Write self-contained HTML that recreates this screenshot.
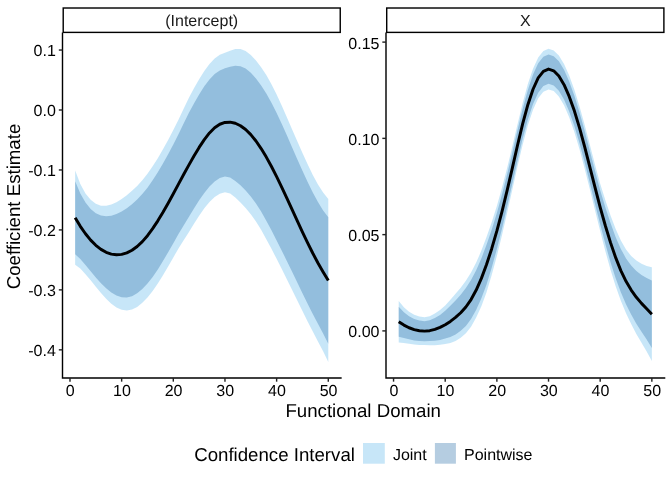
<!DOCTYPE html>
<html><head><meta charset="utf-8"><title>plot</title>
<style>html,body{margin:0;padding:0;background:#fff;overflow:hidden}body{width:672px;height:480px;font-family:"Liberation Sans",sans-serif}</style></head>
<body>
<svg width="672" height="480" viewBox="0 0 672 480" style="display:block;will-change:transform;text-rendering:geometricPrecision">
<rect width="672" height="480" fill="#fff"/>
<polygon points="75.16,170.60 80.32,183.98 85.49,193.39 90.65,199.84 95.82,203.86 100.99,205.69 106.15,205.80 111.32,204.57 116.48,202.15 121.65,199.01 126.82,195.18 131.98,190.84 137.15,185.93 142.31,180.34 147.48,173.78 152.65,166.31 157.81,158.14 162.98,149.32 168.14,139.91 173.31,130.10 178.48,119.84 183.64,108.86 188.81,98.04 193.97,88.21 199.14,79.14 204.31,70.92 209.47,63.90 214.64,58.48 219.80,54.80 224.97,52.67 230.14,50.71 235.30,48.94 240.47,48.93 245.63,50.96 250.80,54.94 255.97,60.46 261.13,67.28 266.30,75.06 271.46,84.24 276.63,94.51 281.80,105.70 286.96,117.38 292.13,129.40 297.29,141.32 302.46,153.10 307.63,164.32 312.79,174.95 317.96,184.41 323.12,192.56 328.29,198.91 328.29,361.96 323.12,351.23 317.96,341.53 312.79,331.55 307.63,321.45 302.46,311.00 297.29,300.51 292.13,289.88 286.96,279.41 281.80,269.01 276.63,258.85 271.46,248.84 266.30,239.15 261.13,229.82 255.97,221.58 250.80,214.34 245.63,208.07 240.47,202.50 235.30,197.59 230.14,193.62 224.97,192.23 219.80,193.70 214.64,197.01 209.47,202.03 204.31,208.35 199.14,215.70 193.97,223.79 188.81,232.17 183.64,240.24 178.48,248.48 173.31,257.44 168.14,266.49 162.98,275.23 157.81,283.51 152.65,291.05 147.48,297.53 142.31,302.87 137.15,306.97 131.98,309.56 126.82,310.50 121.65,309.74 116.48,307.45 111.32,303.63 106.15,298.77 100.99,293.02 95.82,286.72 90.65,280.35 85.49,274.14 80.32,268.61 75.16,264.77" fill="#56B4E9" fill-opacity="0.33"/>
<polygon points="75.16,181.19 80.32,193.50 85.49,202.46 90.65,208.89 95.82,213.17 100.99,215.50 106.15,216.25 111.32,215.71 116.48,213.98 121.65,211.46 126.82,208.14 131.98,204.18 137.15,199.54 142.31,194.11 147.48,187.69 152.65,180.33 157.81,172.24 162.98,163.48 168.14,154.14 173.31,144.41 178.48,134.30 183.64,123.62 188.81,113.11 193.97,103.45 199.14,94.49 204.31,86.37 209.47,79.43 214.64,74.05 219.80,70.41 224.97,68.36 230.14,66.78 235.30,65.65 240.47,66.20 245.63,68.62 250.80,72.86 255.97,78.57 261.13,85.55 266.30,93.50 271.46,102.74 276.63,112.98 281.80,124.05 286.96,135.60 292.13,147.44 297.29,159.21 302.46,170.85 307.63,181.98 312.79,192.55 317.96,202.07 323.12,210.39 328.29,217.23 328.29,343.63 323.12,333.39 317.96,323.87 312.79,313.95 307.63,303.78 302.46,293.25 297.29,282.61 292.13,271.84 286.96,261.20 281.80,250.65 276.63,240.38 271.46,230.34 266.30,220.70 261.13,211.55 255.97,203.47 250.80,196.42 245.63,190.41 240.47,185.24 235.30,180.89 230.14,177.55 224.97,176.54 219.80,178.09 214.64,181.44 209.47,186.51 204.31,192.90 199.14,200.35 193.97,208.55 188.81,217.09 183.64,225.47 178.48,234.02 173.31,243.13 168.14,252.26 162.98,261.08 157.81,269.42 152.65,277.03 147.48,283.62 142.31,289.10 137.15,293.36 131.98,296.21 126.82,297.54 121.65,297.29 116.48,295.61 111.32,292.50 106.15,288.32 100.99,283.20 95.82,277.40 90.65,271.30 85.49,265.06 80.32,259.10 75.16,254.19" fill="#4682B4" fill-opacity="0.4"/>
<polyline points="75.16,217.69 80.32,226.30 85.49,233.76 90.65,240.09 95.82,245.29 100.99,249.35 106.15,252.29 111.32,254.10 116.48,254.80 121.65,254.38 126.82,252.84 131.98,250.20 137.15,246.45 142.31,241.60 147.48,235.66 152.65,228.68 157.81,220.83 162.98,212.28 168.14,203.20 173.31,193.77 178.48,184.16 183.64,174.55 188.81,165.10 193.97,156.00 199.14,147.42 204.31,139.63 209.47,132.97 214.64,127.75 219.80,124.25 224.97,122.45 230.14,122.16 235.30,123.27 240.47,125.72 245.63,129.52 250.80,134.64 255.97,141.02 261.13,148.55 266.30,157.10 271.46,166.54 276.63,176.68 281.80,187.35 286.96,198.40 292.13,209.64 297.29,220.91 302.46,232.05 307.63,242.88 312.79,253.25 317.96,262.97 323.12,271.89 328.29,280.43" fill="none" stroke="#000" stroke-width="2.95" stroke-linejoin="round"/>
<polygon points="398.72,300.91 403.88,307.19 409.05,311.76 414.21,314.71 419.38,316.61 424.55,317.25 429.71,316.22 434.88,313.61 440.04,310.04 445.21,305.39 450.38,299.71 455.54,293.81 460.71,287.67 465.87,280.63 471.04,272.43 476.21,262.57 481.37,250.62 486.54,236.94 491.70,222.30 496.87,205.92 502.04,187.58 507.20,167.73 512.37,146.33 517.53,124.13 522.70,102.89 527.87,84.12 533.03,68.80 538.20,57.60 543.36,51.01 548.53,48.79 553.70,50.43 558.86,55.61 564.03,64.07 569.19,75.56 574.36,89.77 579.53,106.38 584.69,124.98 589.86,144.74 595.02,164.65 600.19,183.65 605.36,200.33 610.52,215.46 615.69,229.12 620.85,240.55 626.02,249.44 631.19,256.00 636.35,260.58 641.52,263.87 646.68,265.94 651.85,267.28 651.85,361.10 646.68,351.48 641.52,342.87 636.35,333.99 631.19,324.11 626.02,313.13 620.85,300.65 615.69,286.23 610.52,269.82 605.36,251.19 600.19,230.91 595.02,210.30 589.86,189.27 584.69,168.63 579.53,149.23 574.36,131.96 569.19,117.26 564.03,105.37 558.86,96.55 553.70,91.12 548.53,89.38 543.36,91.64 538.20,98.34 533.03,109.72 527.87,125.26 522.70,144.41 517.53,166.31 512.37,189.42 507.20,212.57 502.04,235.03 496.87,255.96 491.70,275.12 486.54,292.15 481.37,306.15 476.21,317.59 471.04,326.64 465.87,333.30 460.71,337.86 455.54,341.07 450.38,343.07 445.21,344.05 440.04,344.79 434.88,345.24 429.71,345.16 424.55,345.05 419.38,344.99 414.21,344.60 409.05,343.73 403.88,343.02 398.72,342.61" fill="#56B4E9" fill-opacity="0.33"/>
<polygon points="398.72,306.76 403.88,312.21 409.05,316.25 414.21,318.91 419.38,320.59 424.55,321.15 429.71,320.28 434.88,318.05 440.04,314.92 445.21,310.81 450.38,305.80 455.54,300.44 460.71,294.71 465.87,288.02 471.04,280.04 476.21,270.29 481.37,258.41 486.54,244.69 491.70,229.71 496.87,212.94 502.04,194.24 507.20,174.02 512.37,152.38 517.53,130.05 522.70,108.71 527.87,89.89 533.03,74.54 538.20,63.31 543.36,56.71 548.53,54.48 553.70,56.14 558.86,61.35 564.03,69.86 569.19,81.41 574.36,95.69 579.53,112.39 584.69,131.11 589.86,150.99 595.02,171.05 600.19,190.28 605.36,207.46 610.52,223.09 615.69,237.13 620.85,248.98 626.02,258.38 631.19,265.55 636.35,270.88 641.52,274.96 646.68,277.94 651.85,280.44 651.85,347.94 646.68,339.48 641.52,331.79 636.35,323.69 631.19,314.55 626.02,304.20 620.85,292.21 615.69,278.22 610.52,262.20 605.36,244.06 600.19,224.28 595.02,203.90 589.86,183.03 584.69,162.51 579.53,143.22 574.36,126.04 569.19,111.41 564.03,99.58 558.86,90.81 553.70,85.41 548.53,83.68 543.36,85.94 538.20,92.63 533.03,103.98 527.87,119.49 522.70,138.59 517.53,160.40 512.37,183.38 507.20,206.28 502.04,228.38 496.87,248.94 491.70,267.71 486.54,284.40 481.37,298.36 476.21,309.87 471.04,319.04 465.87,325.91 460.71,330.82 455.54,334.44 450.38,336.99 445.21,338.62 440.04,339.92 434.88,340.80 429.71,341.10 424.55,341.15 419.38,341.01 414.21,340.41 409.05,339.25 403.88,337.99 398.72,336.76" fill="#4682B4" fill-opacity="0.4"/>
<polyline points="398.72,321.76 403.88,325.10 409.05,327.75 414.21,329.66 419.38,330.80 424.55,331.15 429.71,330.69 434.88,329.43 440.04,327.42 445.21,324.72 450.38,321.39 455.54,317.44 460.71,312.76 465.87,306.97 471.04,299.54 476.21,290.08 481.37,278.38 486.54,264.54 491.70,248.71 496.87,230.94 502.04,211.31 507.20,190.15 512.37,167.88 517.53,145.22 522.70,123.65 527.87,104.69 533.03,89.26 538.20,77.97 543.36,71.32 548.53,69.08 553.70,70.78 558.86,76.08 564.03,84.72 569.19,96.41 574.36,110.86 579.53,127.81 584.69,146.81 589.86,167.01 595.02,187.48 600.19,207.28 605.36,225.76 610.52,242.64 615.69,257.67 620.85,270.60 626.02,281.29 631.19,290.05 636.35,297.29 641.52,303.37 646.68,308.71 651.85,314.19" fill="none" stroke="#000" stroke-width="2.95" stroke-linejoin="round"/>
<rect x="63.21" y="8.01" width="277.03" height="24.38" fill="#fff" stroke="#000" stroke-width="1.42"/>
<text x="201.72" y="26.3" font-family="Liberation Sans, sans-serif" font-size="16" fill="#1a1a1a" text-anchor="middle">(Intercept)</text>
<path d="M62.5,33.1 V378.0 H340.95" fill="none" stroke="#000" stroke-width="1.42" stroke-linecap="square" stroke-linejoin="miter"/>
<path d="M69.99,378.0 v3.67" stroke="#222" stroke-width="1.42"/>
<text x="70.29" y="396.4" font-family="Liberation Sans, sans-serif" font-size="16" fill="#000" text-anchor="middle">0</text>
<path d="M121.65,378.0 v3.67" stroke="#222" stroke-width="1.42"/>
<text x="121.95" y="396.4" font-family="Liberation Sans, sans-serif" font-size="16" fill="#000" text-anchor="middle">10</text>
<path d="M173.31,378.0 v3.67" stroke="#222" stroke-width="1.42"/>
<text x="173.61" y="396.4" font-family="Liberation Sans, sans-serif" font-size="16" fill="#000" text-anchor="middle">20</text>
<path d="M224.97,378.0 v3.67" stroke="#222" stroke-width="1.42"/>
<text x="225.27" y="396.4" font-family="Liberation Sans, sans-serif" font-size="16" fill="#000" text-anchor="middle">30</text>
<path d="M276.63,378.0 v3.67" stroke="#222" stroke-width="1.42"/>
<text x="276.93" y="396.4" font-family="Liberation Sans, sans-serif" font-size="16" fill="#000" text-anchor="middle">40</text>
<path d="M328.29,378.0 v3.67" stroke="#222" stroke-width="1.42"/>
<text x="328.59" y="396.4" font-family="Liberation Sans, sans-serif" font-size="16" fill="#000" text-anchor="middle">50</text>
<rect x="386.71" y="8.01" width="277.18" height="24.38" fill="#fff" stroke="#000" stroke-width="1.42"/>
<text x="525.30" y="26.3" font-family="Liberation Sans, sans-serif" font-size="16" fill="#1a1a1a" text-anchor="middle">X</text>
<path d="M386.0,33.1 V378.0 H664.6" fill="none" stroke="#000" stroke-width="1.42" stroke-linecap="square" stroke-linejoin="miter"/>
<path d="M393.55,378.0 v3.67" stroke="#222" stroke-width="1.42"/>
<text x="393.85" y="396.4" font-family="Liberation Sans, sans-serif" font-size="16" fill="#000" text-anchor="middle">0</text>
<path d="M445.21,378.0 v3.67" stroke="#222" stroke-width="1.42"/>
<text x="445.51" y="396.4" font-family="Liberation Sans, sans-serif" font-size="16" fill="#000" text-anchor="middle">10</text>
<path d="M496.87,378.0 v3.67" stroke="#222" stroke-width="1.42"/>
<text x="497.17" y="396.4" font-family="Liberation Sans, sans-serif" font-size="16" fill="#000" text-anchor="middle">20</text>
<path d="M548.53,378.0 v3.67" stroke="#222" stroke-width="1.42"/>
<text x="548.83" y="396.4" font-family="Liberation Sans, sans-serif" font-size="16" fill="#000" text-anchor="middle">30</text>
<path d="M600.19,378.0 v3.67" stroke="#222" stroke-width="1.42"/>
<text x="600.49" y="396.4" font-family="Liberation Sans, sans-serif" font-size="16" fill="#000" text-anchor="middle">40</text>
<path d="M651.85,378.0 v3.67" stroke="#222" stroke-width="1.42"/>
<text x="652.15" y="396.4" font-family="Liberation Sans, sans-serif" font-size="16" fill="#000" text-anchor="middle">50</text>
<path d="M62.5,50.04 h-3.67" stroke="#222" stroke-width="1.42"/>
<text x="55.8" y="55.99" font-family="Liberation Sans, sans-serif" font-size="16" fill="#000" text-anchor="end">0.1</text>
<path d="M62.5,110.00 h-3.67" stroke="#222" stroke-width="1.42"/>
<text x="55.8" y="115.95" font-family="Liberation Sans, sans-serif" font-size="16" fill="#000" text-anchor="end">0.0</text>
<path d="M62.5,169.96 h-3.67" stroke="#222" stroke-width="1.42"/>
<text x="55.8" y="175.91" font-family="Liberation Sans, sans-serif" font-size="16" fill="#000" text-anchor="end">-0.1</text>
<path d="M62.5,229.92 h-3.67" stroke="#222" stroke-width="1.42"/>
<text x="55.8" y="235.87" font-family="Liberation Sans, sans-serif" font-size="16" fill="#000" text-anchor="end">-0.2</text>
<path d="M62.5,289.88 h-3.67" stroke="#222" stroke-width="1.42"/>
<text x="55.8" y="295.83" font-family="Liberation Sans, sans-serif" font-size="16" fill="#000" text-anchor="end">-0.3</text>
<path d="M62.5,349.84 h-3.67" stroke="#222" stroke-width="1.42"/>
<text x="55.8" y="355.79" font-family="Liberation Sans, sans-serif" font-size="16" fill="#000" text-anchor="end">-0.4</text>
<path d="M386.0,42.11 h-3.67" stroke="#222" stroke-width="1.42"/>
<text x="379.5" y="48.51" font-family="Liberation Sans, sans-serif" font-size="16" fill="#000" text-anchor="end">0.15</text>
<path d="M386.0,138.37 h-3.67" stroke="#222" stroke-width="1.42"/>
<text x="379.5" y="144.77" font-family="Liberation Sans, sans-serif" font-size="16" fill="#000" text-anchor="end">0.10</text>
<path d="M386.0,234.63 h-3.67" stroke="#222" stroke-width="1.42"/>
<text x="379.5" y="241.03" font-family="Liberation Sans, sans-serif" font-size="16" fill="#000" text-anchor="end">0.05</text>
<path d="M386.0,330.90 h-3.67" stroke="#222" stroke-width="1.42"/>
<text x="379.5" y="337.30" font-family="Liberation Sans, sans-serif" font-size="16" fill="#000" text-anchor="end">0.00</text>
<text x="363.2" y="416.8" font-family="Liberation Sans, sans-serif" font-size="18.67" fill="#000" text-anchor="middle">Functional Domain</text>
<text transform="translate(19.6,206.5) rotate(-90)" font-family="Liberation Sans, sans-serif" font-size="18.67" fill="#000" text-anchor="middle">Coefficient Estimate</text>
<text x="194.2" y="461.2" font-family="Liberation Sans, sans-serif" font-size="18.67" fill="#000">Confidence Interval</text>
<rect x="363" y="443" width="21.8" height="20.7" fill="#56B4E9" fill-opacity="0.33"/>
<text x="392.9" y="459.6" font-family="Liberation Sans, sans-serif" font-size="16" fill="#000">Joint</text>
<rect x="434.9" y="443" width="21.0" height="20.7" fill="#4682B4" fill-opacity="0.4"/>
<text x="464.0" y="459.6" font-family="Liberation Sans, sans-serif" font-size="16" fill="#000">Pointwise</text>
</svg>
</body></html>
